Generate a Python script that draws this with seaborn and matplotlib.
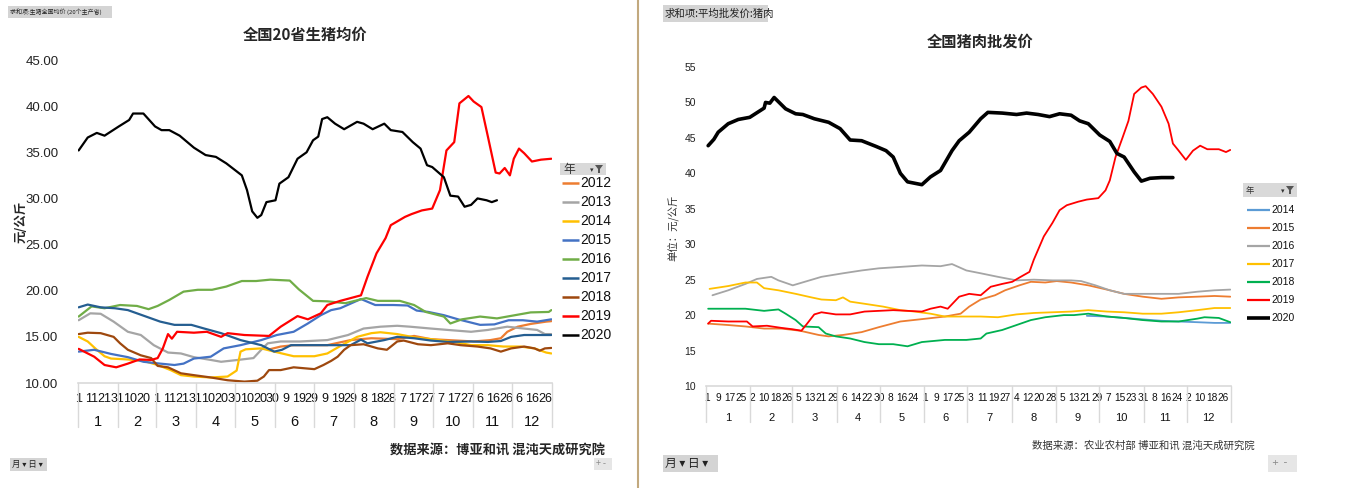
"""
全国生猪均价 / 全国猪肉批发价 — two Excel-style pivot charts side by side.
"""

import matplotlib
matplotlib.use("Agg")
import matplotlib.pyplot as plt
from matplotlib.lines import Line2D
from matplotlib.patches import Rectangle, Polygon
import numpy as np
import pandas as pd
import seaborn as sns

# ---------------------------------------------------------------------------
W, H = 1368, 488
CJK = ["Noto Sans CJK SC", "DejaVu Sans"]
NARROW = ["Liberation Sans Narrow", "Liberation Sans", "DejaVu Sans"]
ARIAL = ["Liberation Sans", "DejaVu Sans"]
AXIS_GRAY = "#d9d9d9"

# ---- left chart: 全国20省生猪均价 (day index in leap year, value 元/公斤) ----
L2012_DAY = [146, 156, 166, 192, 210, 226, 246, 259, 272, 292, 305, 318, 326, 331, 339, 349, 361, 365]
L2012_VAL = [13.6, 13.95, 14.1, 14.1, 14.65, 14.85, 14.75, 15.1, 14.75, 14.6, 14.5, 14.65, 14.85,
             15.55, 16.1, 16.4, 16.65, 16.7]

L2013_DAY = [0, 9, 17, 27, 38, 48, 58, 69, 79, 89, 102, 110, 123, 135, 141, 146, 156, 171, 192, 208,
             220, 233, 246, 256, 272, 285, 303, 316, 331, 344, 354, 360, 365]
L2013_VAL = [16.8, 17.55, 17.5, 16.65, 15.55, 15.2, 14.1, 13.3, 13.2, 12.8, 12.5, 12.3, 12.5, 12.7,
             13.6, 14.3, 14.5, 14.5, 14.65, 15.2, 15.9, 16.1, 16.2, 16.1, 15.9, 15.75, 15.55, 15.75,
             16.1, 15.9, 15.75, 15.3, 15.3]

L2014_DAY = [0, 7, 14, 20, 25, 38, 50, 61, 71, 79, 89, 102, 115, 122, 125, 129, 141, 151, 166, 182,
             192, 202, 215, 226, 233, 246, 259, 272, 292, 303, 316, 328, 341, 352, 361, 365]
L2014_VAL = [15.0, 14.5, 13.6, 12.9, 12.65, 12.55, 12.4, 11.95, 11.4, 10.85, 10.7, 10.6, 10.7, 11.35,
             13.4, 13.65, 13.75, 13.4, 12.9, 12.9, 13.2, 14.0, 15.0, 15.4, 15.5, 15.3, 14.95, 14.75,
             14.4, 14.1, 14.1, 13.95, 13.95, 13.75, 13.3, 13.2]

L2015_DAY = [0, 12, 25, 38, 50, 63, 74, 81, 89, 102, 112, 125, 141, 153, 166, 177, 187, 195, 202,
             218, 229, 243, 254, 261, 270, 282, 293, 310, 321, 332, 343, 354, 365]
L2015_VAL = [13.4, 13.6, 13.15, 12.8, 12.3, 12.1, 11.95, 12.1, 12.65, 12.85, 13.75, 14.1, 14.65, 15.2,
             15.55, 16.45, 17.35, 17.9, 18.1, 19.1, 18.45, 18.45, 18.4, 17.85, 17.7, 17.35, 16.9,
             16.3, 16.35, 16.8, 16.8, 16.65, 16.9]

L2016_DAY = [0, 10, 20, 32, 45, 54, 61, 70, 81, 92, 103, 114, 126, 137, 148, 163, 170, 181, 192, 206,
             222, 231, 248, 259, 268, 282, 287, 296, 310, 323, 337, 349, 363, 365]
L2016_VAL = [17.2, 18.3, 18.1, 18.45, 18.35, 18.0, 18.35, 19.0, 19.9, 20.1, 20.1, 20.45, 21.05, 21.05,
             21.2, 21.1, 20.15, 18.9, 18.85, 18.65, 19.2, 18.9, 18.9, 18.45, 17.7, 17.2, 16.45, 16.9,
             17.2, 17.0, 17.35, 17.65, 17.7, 17.9]

L2017_DAY = [0, 7, 17, 28, 38, 48, 63, 74, 87, 97, 110, 125, 141, 151, 157, 164, 179, 195, 210, 218,
             223, 236, 246, 259, 272, 285, 303, 316, 326, 334, 344, 359, 365]
L2017_VAL = [18.2, 18.5, 18.2, 18.1, 17.9, 17.4, 16.65, 16.3, 16.3, 15.9, 15.4, 14.65, 14.1, 13.4, 13.6,
             14.1, 14.1, 14.1, 14.1, 14.7, 14.3, 14.65, 15.0, 14.85, 14.6, 14.45, 14.5, 14.45, 14.55,
             15.0, 15.2, 15.2, 15.2]

L2018_DAY = [0, 7, 17, 27, 32, 38, 48, 56, 61, 69, 79, 89, 102, 115, 128, 138, 143, 147, 156, 166,
             182, 189, 195, 200, 205, 210, 220, 231, 238, 246, 251, 262, 272, 285, 295, 308, 318, 326,
             334, 344, 352, 356, 360, 365]
L2018_VAL = [15.3, 15.45, 15.4, 15.0, 14.3, 13.6, 13.0, 12.7, 11.85, 11.7, 11.05, 10.85, 10.6, 10.3,
             10.15, 10.25, 10.7, 11.4, 11.4, 11.7, 11.5, 11.95, 12.4, 12.85, 13.6, 14.1, 14.2, 13.75,
             13.6, 14.5, 14.6, 14.2, 14.1, 14.3, 14.1, 13.95, 13.75, 13.4, 13.75, 13.95, 13.75, 13.5,
             13.75, 13.8]

L2019_DAY = [0, 12, 20, 29, 38, 47, 56, 61, 65, 69, 72, 76, 89, 99, 110, 115, 128, 147, 156, 169, 177,
             187, 192, 202, 218, 223, 230, 237, 241, 252, 257, 265, 273, 279, 284, 290, 294, 301, 305,
             311, 316, 322, 325, 329, 333, 336, 340, 344, 350, 357, 365]
L2019_VAL = [13.7, 12.85, 11.95, 11.7, 12.1, 12.55, 12.5, 12.7, 13.75, 15.3, 14.8, 15.55, 15.45, 15.55,
             15.0, 15.4, 15.2, 15.1, 16.1, 17.25, 16.9, 17.55, 18.45, 18.9, 19.5, 21.5, 24.05, 25.7,
             27.1, 28.0, 28.3, 28.7, 28.9, 30.9, 35.2, 36.1, 40.3, 41.1, 40.5, 39.9, 36.7, 32.8, 32.7,
             33.3, 32.5, 34.3, 35.4, 34.9, 34.0, 34.2, 34.3]

L2020_DAY = [0, 7, 14, 20, 31, 39, 42, 50, 59, 64, 70, 78, 89, 98, 106, 114, 126, 130, 134, 138, 141,
             145, 152, 155, 162, 169, 176, 181, 185, 188, 192, 198, 205, 215, 220, 227, 236, 241, 250,
             258, 264, 269, 273, 282, 287, 293, 298, 303, 308, 315, 319, 323]
L2020_VAL = [35.2, 36.6, 37.1, 36.8, 37.8, 38.5, 39.2, 39.2, 37.8, 37.4, 37.4, 36.8, 35.5, 34.7, 34.5,
             33.8, 32.5, 30.9, 28.6, 27.9, 28.2, 29.6, 29.8, 31.6, 32.3, 34.3, 35.0, 36.3, 36.7, 38.6,
             38.8, 38.1, 37.5, 38.3, 38.1, 37.5, 38.1, 37.4, 37.2, 36.1, 35.4, 33.6, 33.4, 32.3, 30.3,
             30.2, 29.1, 29.3, 30.0, 29.8, 29.6, 29.8]

# ---- right chart: 全国猪肉批发价 ----
R2014_DAY = [265, 279, 291, 304, 317, 329, 342, 354, 365]
R2014_VAL = [19.9, 19.8, 19.6, 19.4, 19.2, 19.1, 19.0, 18.9, 18.9]

R2015_DAY = [1, 15, 27, 40, 52, 65, 78, 85, 95, 108, 120, 135, 153, 166, 177, 183, 191, 201, 208, 218,
             226, 236, 244, 254, 266, 279, 291, 304, 317, 329, 342, 354, 365]
R2015_VAL = [18.8, 18.6, 18.4, 18.1, 18.1, 17.8, 17.2, 17.0, 17.2, 17.6, 18.3, 19.1, 19.5, 19.8, 20.2,
             21.2, 22.2, 22.8, 23.5, 24.2, 24.7, 24.6, 24.8, 24.6, 24.2, 23.6, 23.0, 22.6, 22.3, 22.5,
             22.6, 22.7, 22.6]

R2016_DAY = [4, 15, 27, 35, 45, 50, 60, 70, 80, 95, 108, 120, 135, 150, 163, 171, 181, 191, 203, 216,
             228, 241, 254, 261, 271, 281, 291, 304, 317, 329, 342, 354, 365]
R2016_VAL = [22.8, 23.5, 24.4, 25.1, 25.4, 24.9, 24.2, 24.8, 25.4, 25.9, 26.3, 26.6, 26.8, 27.0, 26.9,
             27.2, 26.3, 25.9, 25.4, 24.9, 25.0, 24.9, 24.9, 24.8, 24.2, 23.5, 23.0, 23.0, 23.0, 23.0,
             23.3, 23.5, 23.6]

R2017_DAY = [2, 15, 27, 35, 40, 50, 62, 73, 80, 90, 95, 100, 110, 123, 135, 145, 156, 166, 181, 191,
             203, 216, 228, 241, 254, 266, 279, 291, 304, 317, 329, 342, 354, 365]
R2017_VAL = [23.7, 24.1, 24.6, 24.6, 23.8, 23.5, 23.0, 22.5, 22.2, 22.1, 22.5, 21.9, 21.6, 21.2, 20.7,
             20.5, 20.2, 19.8, 19.8, 19.8, 19.7, 20.1, 20.3, 20.4, 20.5, 20.7, 20.5, 20.4, 20.2, 20.2,
             20.4, 20.7, 21.0, 21.0]

R2018_DAY = [1, 15, 27, 40, 50, 55, 62, 67, 78, 83, 90, 100, 110, 120, 130, 140, 150, 166, 181, 191,
             195, 206, 216, 226, 236, 249, 256, 266, 279, 291, 304, 317, 329, 342, 347, 357, 365]
R2018_VAL = [20.9, 20.9, 20.9, 20.6, 20.8, 20.2, 19.3, 18.4, 18.3, 17.4, 17.0, 16.7, 16.2, 15.9, 15.9,
             15.6, 16.2, 16.5, 16.5, 16.7, 17.4, 17.9, 18.6, 19.3, 19.7, 20.0, 20.0, 20.2, 19.8, 19.6,
             19.3, 19.1, 19.1, 19.5, 19.7, 19.6, 19.0]

R2019_DAY = [1, 3, 15, 28, 32, 42, 52, 60, 66, 70, 75, 80, 90, 100, 110, 120, 130, 140, 150, 156, 163,
             168, 176, 183, 191, 198, 206, 213, 218, 225, 228, 235, 241, 246, 251, 259, 265, 273, 278,
             281, 285, 290, 294, 298, 303, 306, 311, 317, 322, 325, 329, 334, 339, 344, 349, 357, 362,
             365]
R2019_VAL = [18.8, 19.2, 19.1, 19.1, 18.4, 18.5, 18.2, 18.0, 17.8, 18.8, 20.1, 20.4, 20.1, 20.1, 20.5,
             20.6, 20.7, 20.6, 20.5, 20.9, 21.2, 20.9, 22.6, 23.0, 22.8, 24.0, 24.4, 24.7, 25.3, 26.1,
             27.8, 31.1, 33.0, 34.8, 35.5, 36.0, 36.3, 36.5, 37.6, 39.0, 42.3, 45.1, 47.4, 51.2, 52.1,
             52.3, 51.2, 49.4, 47.0, 44.2, 43.2, 41.9, 43.2, 43.9, 43.4, 43.4, 43.0, 43.3]

R2020_DAY = [1, 5, 8, 15, 22, 30, 40, 41, 44, 47, 55, 62, 67, 75, 85, 93, 100, 108, 118, 125, 130, 135,
             140, 150, 156, 163, 171, 176, 183, 191, 196, 206, 216, 223, 231, 239, 246, 254, 260, 266,
             274, 281, 286, 291, 298, 303, 309, 317, 325]
R2020_VAL = [43.9, 44.8, 45.8, 47.0, 47.6, 47.9, 49.2, 50.0, 49.9, 50.7, 49.1, 48.4, 48.3, 47.7, 47.2,
             46.3, 44.7, 44.6, 43.8, 43.2, 42.3, 40.0, 38.8, 38.4, 39.5, 40.4, 43.2, 44.6, 45.8, 47.7,
             48.6, 48.5, 48.3, 48.5, 48.3, 48.0, 48.4, 48.2, 47.4, 47.0, 45.4, 44.5, 42.8, 42.3, 40.2,
             38.9, 39.3, 39.4, 39.4]

LEFT_SERIES = {
    "2012": (L2012_DAY, L2012_VAL), "2013": (L2013_DAY, L2013_VAL), "2014": (L2014_DAY, L2014_VAL),
    "2015": (L2015_DAY, L2015_VAL), "2016": (L2016_DAY, L2016_VAL), "2017": (L2017_DAY, L2017_VAL),
    "2018": (L2018_DAY, L2018_VAL), "2019": (L2019_DAY, L2019_VAL), "2020": (L2020_DAY, L2020_VAL),
}
LEFT_COLORS = {"2012": "#ED7D31", "2013": "#A5A5A5", "2014": "#FFC000", "2015": "#4472C4",
               "2016": "#70AD47", "2017": "#255E91", "2018": "#9E480E", "2019": "#FF0000",
               "2020": "#000000"}

RIGHT_SERIES = {
    "2014": (R2014_DAY, R2014_VAL), "2015": (R2015_DAY, R2015_VAL), "2016": (R2016_DAY, R2016_VAL),
    "2017": (R2017_DAY, R2017_VAL), "2018": (R2018_DAY, R2018_VAL), "2019": (R2019_DAY, R2019_VAL),
    "2020": (R2020_DAY, R2020_VAL),
}
RIGHT_COLORS = {"2014": "#5B9BD5", "2015": "#ED7D31", "2016": "#A5A5A5", "2017": "#FFC000",
                "2018": "#00B050", "2019": "#FF0000", "2020": "#000000"}

# leap-year calendar used by the two-level category axis (月 / 日)
CAL = pd.date_range("2020-01-01", "2020-12-31", freq="D")
MONTH_EDGES = [int(np.where(CAL.month == m)[0][0]) for m in range(1, 13)] + [len(CAL)]


def fx(px):
    return px / W


def fy(py):
    return 1 - py / H


def to_long(series):
    frames = [pd.DataFrame({"day": d, "price": v, "年": yr}) for yr, (d, v) in series.items()]
    return pd.concat(frames, ignore_index=True)


def button(fig, x, y, w, h, text, size, color="#d4d4d4", tcolor="#222222"):
    fig.add_artist(Rectangle((fx(x), fy(y + h)), w / W, h / H, transform=fig.transFigure,
                             facecolor=color, edgecolor="none"))
    fig.text(fx(x + 2), fy(y + h / 2), text, family=CJK, fontsize=size, color=tcolor,
             va="center", ha="left")


def filter_icon(fig, x, y):
    # small "▾" plus funnel, like the pivot-field button
    fig.text(fx(x), fy(y + 1), "▾", family=["DejaVu Sans"], fontsize=5, va="center", ha="left",
             color="#333333")
    pts = [(x + 5, y - 4), (x + 13, y - 4), (x + 10, y), (x + 10, y + 4), (x + 8, y + 4), (x + 8, y)]
    fig.add_artist(Polygon([(fx(a), fy(b)) for a, b in pts], closed=True, transform=fig.transFigure,
                           facecolor="#555555", edgecolor="none"))


def size_family(size):
    return NARROW if size >= 9 else ARIAL


def legend(fig, x, y_hdr, w_hdr, h_hdr, y0, step, line_x0, line_x1, colors, widths, size):
    fig.add_artist(Rectangle((fx(x), fy(y_hdr + h_hdr)), w_hdr / W, h_hdr / H,
                             transform=fig.transFigure, facecolor="#d9d9d9", edgecolor="none"))
    fig.text(fx(x + 3), fy(y_hdr + h_hdr / 2), "年", family=CJK, fontsize=size - 1.5,
             va="center", ha="left", color="#333333")
    filter_icon(fig, x + w_hdr - 16, y_hdr + h_hdr / 2)
    for i, (yr, col) in enumerate(colors.items()):
        yy = y0 + i * step
        fig.add_artist(Line2D([fx(line_x0), fx(line_x1)], [fy(yy), fy(yy)], color=col,
                              lw=widths.get(yr, widths["default"]), transform=fig.transFigure,
                              solid_capstyle="butt"))
        fig.text(fx(line_x1 + 1), fy(yy), yr, family=size_family(size), fontsize=size,
                 va="center", ha="left", color="#111111")


def category_axis(ax, step, day_size, day_pad, month_y, month_size, line_bottom):
    ticks = np.arange(0, len(CAL), step)
    ax.set_xticks(ticks)
    ax.set_xticklabels([str(CAL[i].day) for i in ticks], fontsize=day_size, family=NARROW,
                       color="#111111")
    ax.tick_params(axis="x", length=0, pad=day_pad)
    ax.set_xlim(-0.5, len(CAL) - 0.5)
    trans = ax.get_xaxis_transform()
    for e in MONTH_EDGES:
        ax.plot([e - 0.5, e - 0.5], [0, line_bottom], transform=trans, color=AXIS_GRAY, lw=1,
                clip_on=False)
    for m in range(12):
        mid = (MONTH_EDGES[m] + MONTH_EDGES[m + 1]) / 2 - 0.5
        ax.text(mid, month_y, str(m + 1), transform=trans, ha="center", va="center",
                fontsize=month_size, family=NARROW, color="#111111")


def style_axes(ax):
    sns.despine(ax=ax, left=True, top=True, right=True)
    ax.spines["bottom"].set_color(AXIS_GRAY)
    ax.spines["bottom"].set_linewidth(1.2)
    ax.set_xlabel("")
    ax.set_ylabel("")
    ax.grid(False)
    ax.tick_params(axis="y", length=0)


def main():
    sns.set_style("white")
    plt.rcParams["font.family"] = CJK
    plt.rcParams["axes.unicode_minus"] = False

    fig = plt.figure(figsize=(W / 100, H / 100), dpi=100)
    fig.patch.set_facecolor("white")

    # ---------------- left: 全国20省生猪均价 ----------------
    ax1 = fig.add_axes([fx(78), fy(383), (552 - 78) / W, (383 - 60) / H])
    df1 = to_long(LEFT_SERIES)
    for yr, col in LEFT_COLORS.items():
        sns.lineplot(data=df1[df1["年"] == yr], x="day", y="price", color=col, lw=1.6,
                     estimator=None, sort=False, ax=ax1, legend=False)
    ax1.set_ylim(10, 45)
    ax1.set_yticks(np.arange(10, 46, 5))
    ax1.set_yticklabels([f"{v:.2f}" for v in np.arange(10, 46, 5)], fontsize=9.5, family=ARIAL,
                        color="#222222")
    ax1.tick_params(axis="y", pad=14)
    style_axes(ax1)
    category_axis(ax1, 10, 9, 7, -0.12, 10.5, -0.136)

    fig.text(fx(305), fy(35), "全国20省生猪均价", family=CJK, fontsize=11, fontweight="bold",
             ha="center", va="center")
    fig.text(fx(21), fy(222), "元/公斤", family=CJK, fontsize=9, fontweight="bold",
             rotation=90, ha="center", va="center")
    fig.text(fx(605), fy(451), "数据来源：博亚和讯 混沌天成研究院", family=CJK, fontsize=9.5,
             fontweight="bold", ha="right", va="center")
    button(fig, 8, 6, 104, 12, "求和项:生猪全国均价 (20个主产省)", 4.3)
    button(fig, 10, 458, 37, 13, "月 ▾ 日 ▾", 6)
    button(fig, 594, 458, 18, 12, "+ -", 6.5, color="#e6e6e6", tcolor="#8c8c8c")
    legend(fig, 560, 163, 46, 12, 183, 19, 562, 579, LEFT_COLORS, {"default": 1.8}, 10)

    # divider between the two pivot charts
    fig.add_artist(Line2D([fx(638), fx(638)], [0, 1], color="#c2a97e", lw=1.5,
                          transform=fig.transFigure))

    # ---------------- right: 全国猪肉批发价 ----------------
    ax2 = fig.add_axes([fx(706), fy(386), (1231 - 706) / W, (386 - 67) / H])
    df2 = to_long(RIGHT_SERIES)
    for yr, col in RIGHT_COLORS.items():
        sns.lineplot(data=df2[df2["年"] == yr], x="day", y="price", color=col,
                     lw=2.6 if yr == "2020" else 1.3, estimator=None, sort=False, ax=ax2,
                     legend=False)
    ax2.set_ylim(10, 55)
    ax2.set_yticks(np.arange(10, 56, 5))
    ax2.set_yticklabels([str(v) for v in range(10, 56, 5)], fontsize=7.5, family=ARIAL,
                        color="#222222")
    ax2.tick_params(axis="y", pad=7)
    style_axes(ax2)
    category_axis(ax2, 8, 7.3, 5, -0.10, 8, -0.113)

    fig.text(fx(980), fy(42), "全国猪肉批发价", family=CJK, fontsize=11, fontweight="bold",
             ha="center", va="center")
    fig.text(fx(674), fy(228), "单位：元/公斤", family=CJK, fontsize=7.5,
             rotation=90, ha="center", va="center", color="#333333")
    fig.text(fx(1255), fy(446), "数据来源：农业农村部 博亚和讯 混沌天成研究院", family=CJK,
             fontsize=7.5, ha="right", va="center", color="#333333")
    button(fig, 663, 5, 105, 17, "求和项:平均批发价:猪肉", 7.5)
    button(fig, 663, 455, 55, 17, "月 ▾ 日 ▾", 8.5)
    button(fig, 1268, 455, 29, 17, " +  -", 8, color="#e6e6e6", tcolor="#8c8c8c")
    legend(fig, 1243, 183, 54, 14, 210, 18, 1247, 1270, RIGHT_COLORS,
           {"default": 1.6, "2020": 2.6}, 7.5)

    fig.savefig("out.png", dpi=100, facecolor="white")
    plt.close(fig)


if __name__ == "__main__":
    main()
